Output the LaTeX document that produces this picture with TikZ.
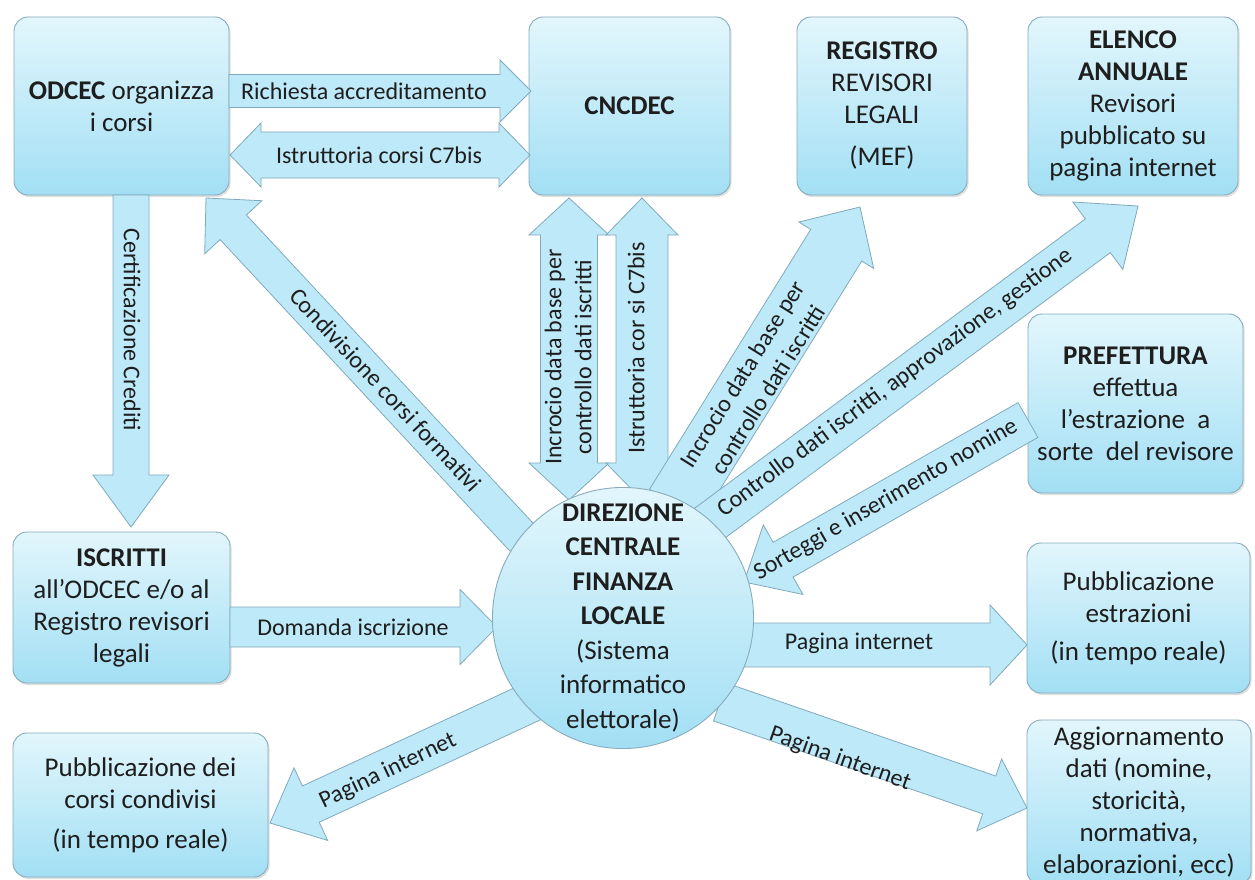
\documentclass[tikz,border=0pt]{standalone}
\usepackage{fontspec}
\setmainfont{Carlito}
\usetikzlibrary{calc,shadows}
\definecolor{boxtop}{RGB}{226,246,252}
\definecolor{boxbot}{RGB}{162,223,244}
\definecolor{boxline}{RGB}{135,172,188}
\definecolor{arrfill}{RGB}{190,233,248}
\definecolor{arrline}{RGB}{128,170,188}
\definecolor{txt}{RGB}{30,30,30}
\newcommand\boxfont{\fontsize{27}{32}\selectfont}
\newcommand\circfont{\fontsize{27}{34.5}\selectfont}
\newcommand\lblfont{\fontsize{24}{30}\selectfont}
\tikzset{
  box/.style={draw=boxline, line width=0.9pt, rounded corners=14pt,
    top color=boxtop, bottom color=boxbot, align=center, text=txt,
    font=\boxfont, inner sep=0pt,
    drop shadow={shadow xshift=1.5pt, shadow yshift=-2pt, opacity=0.25}},
  hub/.style={circle, draw=boxline, line width=0.9pt, top color=boxtop,
    bottom color=boxbot, align=center, text=txt, font=\circfont, inner sep=0pt,
    minimum size=250pt},
  arr/.style={draw=arrline, line width=0.8pt, fill=arrfill},
  lbl/.style={text=txt, font=\lblfont, inner sep=0pt, align=center},
}
% single fat arrow: tail, tip, shaft half width, head half width, head length
\newcommand{\fatarr}[5]{%
  \coordinate (fahb) at ($(#2)!#5pt!(#1)$);
  \draw[arr] ($(#1)!#3pt!90:(#2)$) -- ($(fahb)!#3pt!-90:(#1)$)
    -- ($(fahb)!#4pt!-90:(#1)$) -- (#2) -- ($(fahb)!#4pt!90:(#1)$)
    -- ($(fahb)!#3pt!90:(#1)$) -- ($(#1)!#3pt!-90:(#2)$) -- cycle;}
% double fat arrow
\newcommand{\dblarr}[5]{%
  \coordinate (fha) at ($(#1)!#5pt!(#2)$);
  \coordinate (fhb) at ($(#2)!#5pt!(#1)$);
  \draw[arr] (#1) -- ($(fha)!#4pt!90:(#2)$) -- ($(fha)!#3pt!90:(#2)$)
    -- ($(fhb)!#3pt!-90:(#1)$) -- ($(fhb)!#4pt!-90:(#1)$) -- (#2)
    -- ($(fhb)!#4pt!90:(#1)$) -- ($(fhb)!#3pt!90:(#1)$)
    -- ($(fha)!#3pt!-90:(#2)$) -- ($(fha)!#4pt!-90:(#2)$) -- cycle;}
\begin{document}
\begin{tikzpicture}[x=1pt,y=-1pt]
\useasboundingbox (0,0) rectangle (1255,880);
\fill[white] (0,0) rectangle (1255,880);

% ---------- boxes ----------
\node[box, minimum width=215pt, minimum height=178pt] (odcec) at (121.5,106) {\textbf{ODCEC} organizza\\i corsi};
\node[box, minimum width=201pt, minimum height=178pt] (cncdec) at (629.5,106) {\textbf{CNCDEC}};
\node[box, minimum width=170pt, minimum height=178pt] (registro) at (882,106) {\textbf{REGISTRO}\\REVISORI\\LEGALI\\[10pt](MEF)};
\node[box, minimum width=210pt, minimum height=178pt] (elenco) at (1133,106) {\textbf{ELENCO}\\\textbf{ANNUALE}\\Revisori\\pubblicato su\\pagina internet};
\node[box, minimum width=215pt, minimum height=179pt] (prefettura) at (1135.5,403.5) {\textbf{PREFETTURA}\\effettua\\l'estrazione\ \ a\\sorte\ \ del revisore};
\node[box, minimum width=223pt, minimum height=150pt] (pubest) at (1138.5,618) {Pubblicazione\\estrazioni\\[6pt](in tempo reale)};
\node[box, minimum width=224pt, minimum height=165pt] (aggiorn) at (1139,802.5) {Aggiornamento\\dati (nomine,\\storicità,\\normativa,\\elaborazioni, ecc)};
\node[box, minimum width=217pt, minimum height=151pt] (iscritti) at (121.5,607.5) {\textbf{ISCRITTI}\\all'ODCEC e/o al\\Registro revisori\\legali};
\node[box, minimum width=255pt, minimum height=144pt] (pubcorsi) at (140.5,805) {Pubblicazione dei\\corsi condivisi\\[8pt](in tempo reale)};

% ---------- arrow end points ----------
\coordinate (ra) at (229,91);   \coordinate (rb) at (531,91);
\coordinate (ia) at (230,155);  \coordinate (ib) at (530,155);
\coordinate (ca) at (131,195);  \coordinate (cb) at (131,527);
\coordinate (cfa) at (540,557); \coordinate (cfb) at (206,198);
\coordinate (iva) at (569,198); \coordinate (ivb) at (569,500);
\coordinate (sva) at (642,198); \coordinate (svb) at (642,500);
\coordinate (ida) at (675,505); \coordinate (idb) at (860,207);
\coordinate (cta) at (664,557); \coordinate (ctb) at (1138,206);
\coordinate (soa) at (1028,420);\coordinate (sob) at (744,582);
\coordinate (da) at (230,627);  \coordinate (db) at (497,627);
\coordinate (pra) at (740,645); \coordinate (prb) at (1027,645);
\coordinate (pda) at (720,702); \coordinate (pdb) at (1027,808);
\coordinate (pla) at (540,698); \coordinate (plb) at (270,823);

% ---------- arrows with labels ----------
\fatarr{ra}{rb}{16.5}{31}{31}
\node[lbl] (l1) at (364,91) {Richiesta accreditamento};
\dblarr{ia}{ib}{23}{32}{31}
\node[lbl] (l2) at (379,155) {Istruttoria corsi C7bis};
\fatarr{ca}{cb}{18}{38}{52}
\node[lbl, rotate=-90] (l3) at (132,330) {Certificazione Crediti};
\fatarr{cfa}{cfb}{18}{39}{40}
\node[lbl, rotate=-47] (l4) at (386,390) {Condivisione corsi formativi};
\dblarr{iva}{ivb}{28.5}{40}{37}
\node[lbl, rotate=90] (l5) at (568,357) {Incrocio data base per\\controllo dati iscritti};
\dblarr{sva}{svb}{26}{36}{37}
\node[lbl, rotate=90] (l6) at (636,348) {Istruttoria cor si C7bis};
\fatarr{ida}{idb}{30}{44}{45}
\node[lbl, rotate=58] (l7) at (755,382) {Incrocio data base per\\controllo dati iscritti};
\fatarr{cta}{ctb}{21}{42}{50}
\node[lbl, rotate=36.5] (l8) at (895,383) {Controllo dati iscritti, approvazione, gestione};
\fatarr{soa}{sob}{20}{40}{45}
\node[lbl, rotate=30] (l9) at (886,500) {Sorteggi e inserimento nomine};
\fatarr{da}{db}{20}{37.5}{37}
\node[lbl] (l10) at (353,627) {Domanda iscrizione};
\fatarr{pra}{prb}{22}{40}{37}
\node[lbl] (l11) at (859,643) {Pagina internet};
\fatarr{pda}{pdb}{20}{38}{40}
\node[lbl, rotate=-19.7] (l12) at (840,759) {Pagina internet};
\fatarr{pla}{plb}{20}{40}{45}
\node[lbl, rotate=25.4] (l13) at (388,771) {Pagina internet};

% ---------- central hub ----------
\node[hub] (dcfl) at (623,618) {\textbf{DIREZIONE}\\\textbf{CENTRALE}\\\textbf{FINANZA}\\\textbf{LOCALE}\\(Sistema\\informatico\\elettorale)};
\end{tikzpicture}
\end{document}
